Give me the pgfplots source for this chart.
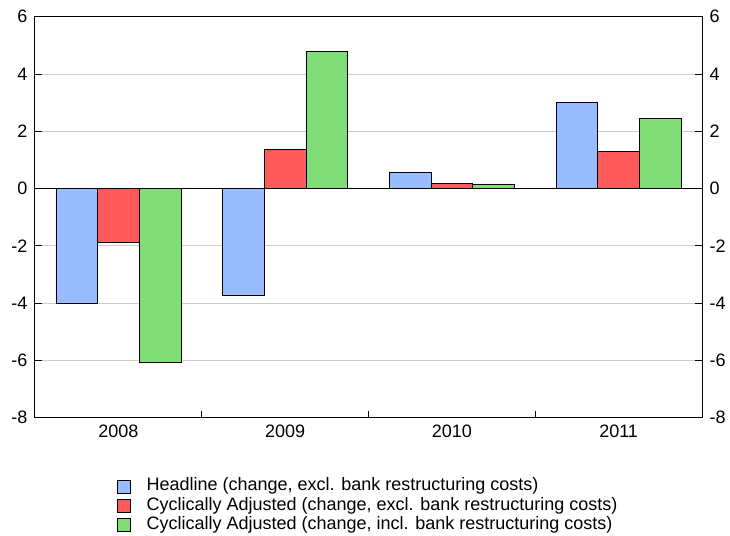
\documentclass[border=0pt]{standalone}
\usepackage{fontspec}
\setmainfont{Liberation Sans}
\usepackage{pgfplots}
\pgfplotsset{compat=1.18}

\definecolor{headline}{RGB}{153,187,255}
\definecolor{cycexcl}{RGB}{255,89,89}
\definecolor{cycincl}{RGB}{128,221,119}
\definecolor{gridgray}{RGB}{204,204,204}

\newcommand{\chartfont}{\fontsize{18bp}{20bp}\selectfont}

\pgfplotsset{
  base/.style={
    width=667bp, height=401bp, scale only axis,
    xmin=-0.5, xmax=3.5, ymin=-8, ymax=6,
    ytick={-8,-6,...,6},
    /pgf/number format/assume math mode=true,
    tick label style={font=\chartfont},
    axis line style={line width=1bp},
  },
  bar/.style={fill=#1, draw=black, line width=0.6bp,
    legend image code/.code={\draw[##1] (0bp,-6.5bp) rectangle (13bp,6.5bp);}},
}

\begin{document}
\begin{tikzpicture}
\begin{axis}[base, name=ax,
  ybar=0pt, bar width=0.25,
  xtick={0,1,2,3}, xticklabels={2008,2009,2010,2011},
  major x tick style={draw=none},
  minor xtick={0.5,1.5,2.5},
  xtick pos=bottom, ytick pos=both,
  tick align=inside,
  major tick length=7bp, minor tick length=7bp,
  tick style={black, line width=0.8bp},
  ymajorgrids, grid style={gridgray, line width=0.8bp},
  yticklabel style={xshift=-4bp},
  xticklabel style={yshift=-4bp},
  extra y ticks={0}, extra y tick labels={},
  extra y tick style={grid style={black, line width=1.5bp}},
  legend cell align=left,
  legend style={at={(0.1229,-0.1499)}, anchor=north west,
    draw=none, fill=none, inner sep=0pt, outer sep=0pt,
    font=\chartfont, row sep=2.25bp,
    nodes={inner sep=0pt, text height=13bp, text depth=4bp},
    /tikz/every odd column/.append style={column sep=16bp}},
]
% headline balance, change
\addplot[bar=headline] coordinates {(0,-4.00) (1,-3.73) (2,0.57) (3,3.01)};
% cyclically adjusted, excl. bank restructuring
\addplot[bar=cycexcl] coordinates {(0,-1.88) (1,1.36) (2,0.18) (3,1.31)};
% cyclically adjusted, incl. bank restructuring
\addplot[bar=cycincl] coordinates {(0,-6.05) (1,4.78) (2,0.15) (3,2.45)};
\legend{{Headline (change, excl. bank restructuring costs)},
        {Cyclically Adjusted (change, excl. bank restructuring costs)},
        {Cyclically Adjusted (change, incl. bank restructuring costs)}}
\end{axis}

% right-hand tick labels
\begin{axis}[base,
  axis x line=none, axis y line*=right,
  major tick length=0pt,
  yticklabel style={xshift=4bp},
]
\addplot[draw=none] coordinates {(0,0)};
\end{axis}

\pgfresetboundingbox
\path[use as bounding box] ([xshift=-35bp,yshift=-118.3bp]ax.south west)
  rectangle ([xshift=28bp,yshift=16.7bp]ax.north east);
\end{tikzpicture}
\end{document}
